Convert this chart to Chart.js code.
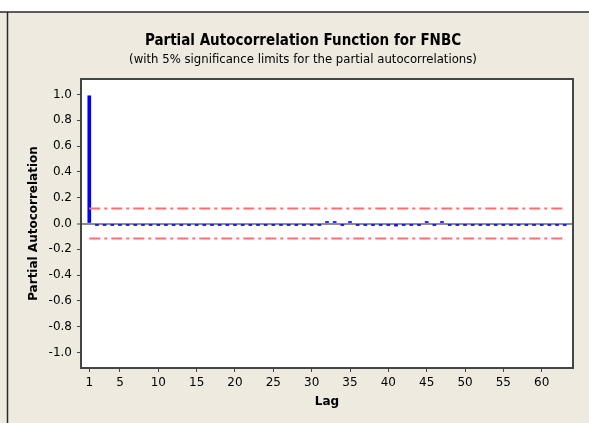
<!DOCTYPE html>
<html>
<head>
<meta charset="utf-8">
<script src="https://cdn.jsdelivr.net/npm/chart.js@4/dist/chart.umd.min.js"></script>
<style>
  html, body { margin: 0; padding: 0; background: #ffffff; }
  #wrap { width: 589px; height: 423px; position: relative; }
</style>
</head>
<body>
<div id="wrap"><canvas id="c" width="589" height="423"></canvas></div>
<script>
// ---- data ----
const titleText = "Partial Autocorrelation Function for FNBC";
const subtitleText = "(with 5% significance limits for the partial autocorrelations)";
const xAxisTitle = "Lag";
const yAxisTitle = "Partial Autocorrelation";

const lags = [];
for (let i = 1; i <= 63; i++) lags.push(i);

const pacf = [
  0.99, -0.015, -0.01, -0.01, -0.01, -0.01, -0.01, -0.01, -0.01, -0.01,
  -0.015, -0.015, -0.015, -0.015, -0.01, -0.01, -0.01, -0.01, -0.01, -0.01,
  -0.01, -0.015, -0.015, -0.015, -0.015, -0.015, -0.015, -0.015, -0.01, -0.01,
  -0.01, 0.01, 0.01, -0.01, 0.01, -0.01, -0.01, -0.01, -0.01, -0.01,
  -0.02, -0.01, -0.01, -0.01, 0.008, -0.01, 0.008, -0.01, -0.01, -0.01,
  -0.015, -0.015, -0.015, -0.015, -0.015, -0.015, -0.015, -0.01, -0.01, -0.01,
  -0.01, -0.01, -0.01
];

const upperLimit = [0.117, 0.117];
const lowerLimit = [-0.117, -0.117];
const limitLags = [1, 63];

const xTickValues = [1, 5, 10, 15, 20, 25, 30, 35, 40, 45, 50, 55, 60];
const yTickValues = [-1.0, -0.8, -0.6, -0.4, -0.2, 0.0, 0.2, 0.4, 0.6, 0.8, 1.0];

// ---- chart ----
const FONT = "'DejaVu Sans', Verdana, sans-serif";
const BG = "#EEEAE0";

const framePlugin = {
  id: 'frame',
  beforeDraw(chart) {
    const ctx = chart.ctx;
    ctx.save();
    ctx.fillStyle = '#ffffff';
    ctx.fillRect(0, 0, chart.width, chart.height);
    ctx.fillStyle = BG;
    ctx.fillRect(0, 12, chart.width, chart.height - 12);
    ctx.strokeStyle = '#2a2a2a';
    ctx.lineWidth = 1.5;
    ctx.beginPath();
    ctx.moveTo(0, 12); ctx.lineTo(chart.width, 12);
    ctx.moveTo(7.5, 12); ctx.lineTo(7.5, chart.height);
    ctx.stroke();
    const a = chart.chartArea;
    ctx.fillStyle = '#ffffff';
    ctx.fillRect(a.left, a.top, a.right - a.left, a.bottom - a.top);
    ctx.restore();
  },
  afterDraw(chart) {
    const ctx = chart.ctx;
    const a = chart.chartArea;
    ctx.save();
    ctx.strokeStyle = '#444444';
    ctx.lineWidth = 2;
    ctx.strokeRect(a.left, a.top, a.right - a.left, a.bottom - a.top);
    ctx.fillStyle = '#000000';
    ctx.textAlign = 'center';
    ctx.textBaseline = 'middle';
    ctx.font = "bold 15px 'DejaVu Sans Condensed', 'DejaVu Sans', sans-serif";
    ctx.fillText(titleText, 303, 41);
    ctx.font = "13px 'DejaVu Sans Condensed', 'DejaVu Sans', sans-serif";
    ctx.fillText(subtitleText, 303, 60);
    ctx.restore();
  }
};

new Chart(document.getElementById('c'), {
  type: 'bar',
  data: {
    datasets: [
      {
        type: 'line',
        data: limitLags.map((x, i) => ({ x: x, y: upperLimit[i] })),
        borderColor: '#FF6F6F',
        borderWidth: 2,
        borderDash: [11, 4, 3, 4],
        pointRadius: 0,
        order: 0
      },
      {
        type: 'line',
        data: limitLags.map((x, i) => ({ x: x, y: lowerLimit[i] })),
        borderColor: '#FF6F6F',
        borderWidth: 2,
        borderDash: [11, 4, 3, 4],
        pointRadius: 0,
        order: 0
      },
      {
        type: 'bar',
        data: lags.map((x, i) => ({ x: x, y: pacf[i] })),
        backgroundColor: '#0000FF',
        borderWidth: 0,
        barThickness: 3,
        minBarLength: 2,
        order: 1
      }
    ]
  },
  options: {
    responsive: false,
    animation: false,
    layout: { padding: { left: 0, right: 16, top: 79, bottom: 0 } },
    plugins: { legend: { display: false }, tooltip: { enabled: false }, title: { display: false } },
    scales: {
      x: {
        type: 'linear',
        min: -0.08,
        max: 64.08,
        offset: false,
        afterFit(scale) { scale.height = 55; },
        afterBuildTicks(scale) { scale.ticks = xTickValues.map(v => ({ value: v })); },
        grid: { offset: false, drawOnChartArea: false, drawTicks: true, tickLength: 4, tickColor: '#444444', tickWidth: 1 },
        border: { display: false },
        ticks: {
          autoSkip: false, maxRotation: 0, padding: 4,
          color: '#000000', font: { family: FONT, size: 12 },
          callback: v => String(v)
        },
        title: {
          display: true, text: xAxisTitle, color: '#000000',
          font: { family: FONT, size: 12, weight: 'bold' },
          padding: { top: 0, bottom: 14 }
        }
      },
      y: {
        min: -1.12,
        max: 1.12,
        afterFit(scale) { scale.width = 81; },
        afterBuildTicks(scale) { scale.ticks = yTickValues.map(v => ({ value: v })); },
        grid: {
          offset: false, drawOnChartArea: true, drawTicks: true, tickLength: 4,
          color: c => (c.tick && Math.abs(c.tick.value) < 1e-9) ? '#8C8C8C' : 'rgba(0,0,0,0)',
          lineWidth: c => (c.tick && Math.abs(c.tick.value) < 1e-9) ? 2 : 1,
          tickColor: '#444444', tickWidth: 1
        },
        border: { display: false },
        ticks: {
          padding: 5, color: '#000000', font: { family: FONT, size: 12 },
          callback: v => Number(v).toFixed(1)
        },
        title: {
          display: true, text: yAxisTitle, color: '#000000',
          font: { family: FONT, size: 12, weight: 'bold' },
          padding: { top: 27, bottom: 0 }
        }
      }
    }
  },
  plugins: [framePlugin]
});
</script>
</body>
</html>
